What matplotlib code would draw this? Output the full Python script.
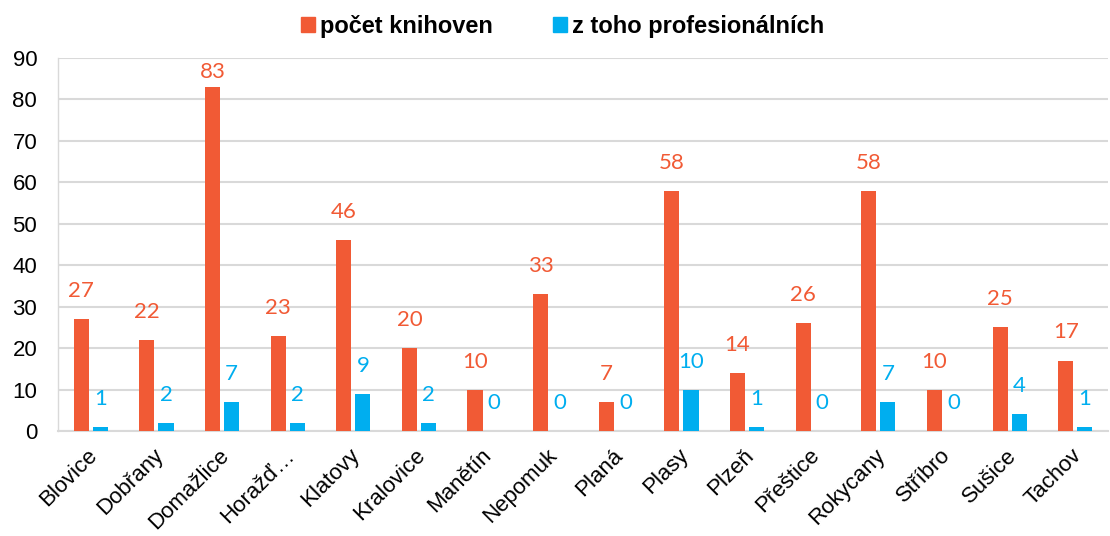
import numpy as np
import matplotlib
matplotlib.use("Agg")
import matplotlib.pyplot as plt
import matplotlib.transforms as mtransforms
from matplotlib.patches import Patch

categories = ["Blovice", "Dobřany", "Domažlice", "Horažď…", "Klatovy", "Kralovice",
              "Manětín", "Nepomuk", "Planá", "Plasy", "Plzeň", "Přeštice",
              "Rokycany", "Stříbro", "Sušice", "Tachov"]
knihovny = [27, 22, 83, 23, 46, 20, 10, 33, 7, 58, 14, 26, 58, 10, 25, 17]
profesionalni = [1, 2, 7, 2, 9, 2, 0, 0, 0, 10, 1, 0, 7, 0, 4, 1]

orange = "#F15A35"
blue = "#00AEEF"
grid = "#D9D9D9"

plt.rcParams["font.family"] = ["Liberation Sans", "DejaVu Sans"]

fig = plt.figure(figsize=(11.1, 5.36), dpi=100)
ax = fig.add_axes([58 / 1110, 1 - 431 / 536, 1050 / 1110, (431 - 58) / 536])

x = np.arange(len(categories))
w = 0.23
gap = 0.03
ymax = 90
ax.bar(x - w / 2 - gap, knihovny, w, color=orange, zorder=3)
ax.bar(x + w / 2 + gap, profesionalni, w, color=blue, zorder=3)

lab_font = ["Lato", "DejaVu Sans"]


def label(xs, vals, color):
    for xi, v in zip(xs, vals):
        if v > ymax - 8:
            # label kept inside the plot area (like Excel does)
            ax.annotate(str(v), (xi, ymax), xytext=(0, -3), textcoords="offset points",
                        ha="center", va="top", color=color, fontsize=16, family=lab_font)
        else:
            ax.annotate(str(v), (xi, v), xytext=(0, 13), textcoords="offset points",
                        ha="center", va="bottom", color=color, fontsize=16, family=lab_font)


label(x - w / 2 - gap, knihovny, orange)
label(x + w / 2 + gap, profesionalni, blue)

ax.set_xlim(-0.5, len(categories) - 0.5)
ax.set_ylim(0, ymax)
ax.set_yticks(range(0, 91, 10))
ax.yaxis.grid(True, color=grid, linewidth=1.5, zorder=0)
ax.set_axisbelow(True)
for s in ["top", "right"]:
    ax.spines[s].set_visible(False)
ax.spines["left"].set_color(grid)
ax.spines["left"].set_linewidth(1.0)
ax.spines["bottom"].set_color(grid)
ax.spines["bottom"].set_linewidth(1.5)
ax.tick_params(axis="x", length=0, labelsize=16, pad=10)
ax.tick_params(axis="y", length=0, labelsize=16, pad=15)

ax.set_xticks(x)
ax.set_xticklabels(categories, rotation=45, ha="right", rotation_mode="anchor")
shift = mtransforms.ScaledTranslation(-4 / 100, 0, fig.dpi_scale_trans)
for t in ax.get_xticklabels():
    t.set_transform(t.get_transform() + shift)

handles = [Patch(color=orange, label="počet knihoven"),
           Patch(color=blue, label="z toho profesionálních")]
fig.legend(handles=handles, loc="center", bbox_to_anchor=(0.507, 0.951), ncol=2,
           frameon=False, prop={"weight": "bold", "size": 17},
           handlelength=0.6, handleheight=0.6, handletextpad=0.2, columnspacing=2.55)

fig.savefig("out.png", dpi=100)
